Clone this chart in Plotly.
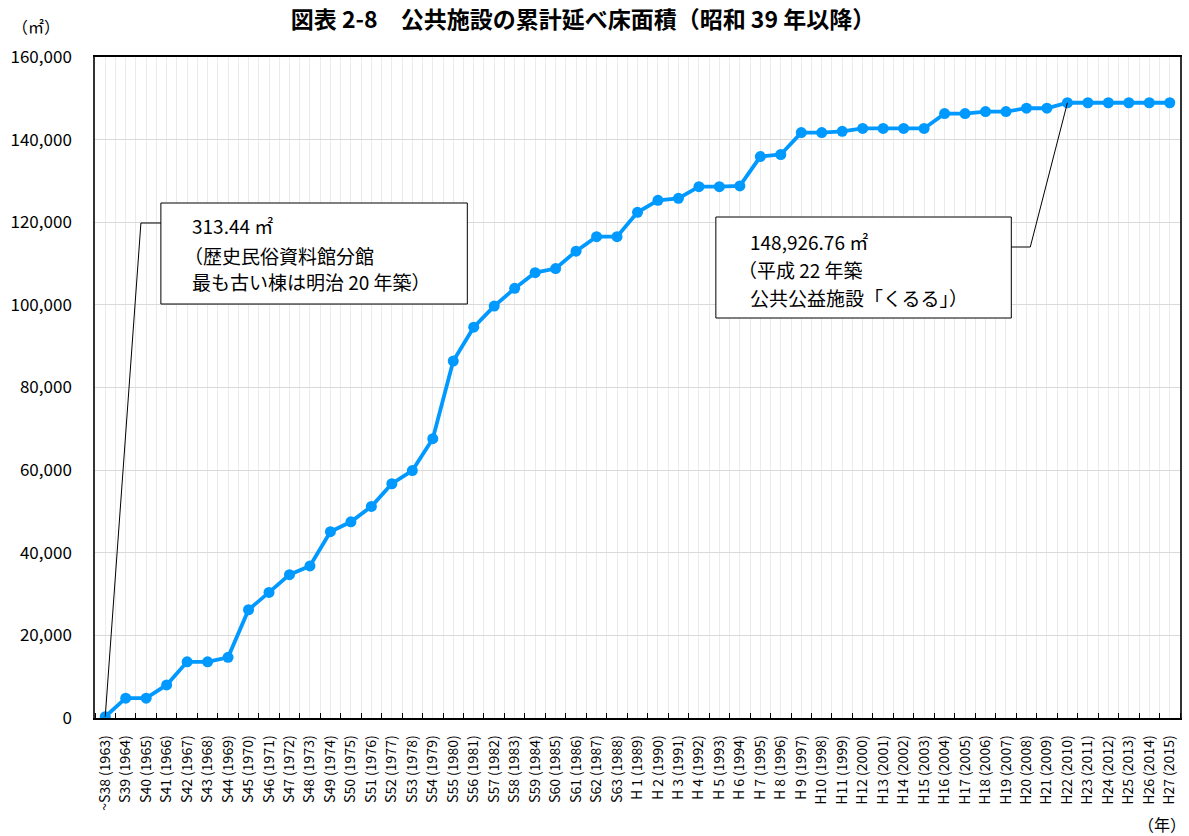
import plotly.graph_objects as go

categories = [
    "~S38 (1963)", "S39 (1964)", "S40 (1965)", "S41 (1966)", "S42 (1967)", "S43 (1968)",
    "S44 (1969)", "S45 (1970)", "S46 (1971)", "S47 (1972)", "S48 (1973)", "S49 (1974)",
    "S50 (1975)", "S51 (1976)", "S52 (1977)", "S53 (1978)", "S54 (1979)", "S55 (1980)",
    "S56 (1981)", "S57 (1982)", "S58 (1983)", "S59 (1984)", "S60 (1985)", "S61 (1986)",
    "S62 (1987)", "S63 (1988)", "H 1 (1989)", "H 2 (1990)", "H 3 (1991)", "H 4 (1992)",
    "H 5 (1993)", "H 6 (1994)", "H 7 (1995)", "H 8 (1996)", "H 9 (1997)", "H10 (1998)",
    "H11 (1999)", "H12 (2000)", "H13 (2001)", "H14 (2002)", "H15 (2003)", "H16 (2004)",
    "H17 (2005)", "H18 (2006)", "H19 (2007)", "H20 (2008)", "H21 (2009)", "H22 (2010)",
    "H23 (2011)", "H24 (2012)", "H25 (2013)", "H26 (2014)", "H27 (2015)",
]

floor_area = [
    313, 4800, 4800, 8000, 13600, 13600, 14700, 26200, 30400, 34700, 36800, 45100,
    47500, 51200, 56700, 59900, 67600, 86400, 94600, 99700, 104000, 107800, 108800, 113000,
    116500, 116500, 122400, 125300, 125800, 128600, 128600, 128800, 135900, 136400, 141700, 141700,
    142000, 142700, 142700, 142700, 142700, 146300, 146300, 146800, 146800, 147600, 147600, 148927,
    148927, 148927, 148927, 148927, 148927,
]

y_ticks = [0, 20000, 40000, 60000, 80000, 100000, 120000, 140000, 160000]

note1_idx = 0
note1_lines = ["313.44 ㎡", "（歴史民俗資料館分館", "最も古い棟は明治 20 年築）"]
note2_idx = 47
note2_lines = ["148,926.76 ㎡", "（平成 22 年築", "公共公益施設「くるる」）"]

title_text = "図表 2-8　公共施設の累計延べ床面積（昭和 39 年以降）"
FONT = "Noto Sans CJK JP"

W, H = 1189, 836
PL, PR, PT, PB = 95, 1182, 57, 718
N = len(categories)
YMAX = 160000


def xp(px):
    return (px - PL) / (PR - PL)


def yp(py):
    return (PB - py) / (PB - PT)


def xd(px):
    return -0.5 + N * (px - PL) / (PR - PL)


def yd(py):
    return YMAX * (PB - py) / (PB - PT)


x = list(range(N))

fig = go.Figure()
fig.add_trace(go.Scatter(
    x=x, y=floor_area, mode="lines+markers",
    line=dict(color="#0099FF", width=3.8),
    marker=dict(color="#0099FF", size=11),
    showlegend=False, hoverinfo="skip",
))

fig.update_layout(
    width=W, height=H,
    margin=dict(l=PL, r=W - PR, t=PT, b=H - PB),
    paper_bgcolor="white", plot_bgcolor="white",
    font=dict(family=FONT, color="black"),
    title=dict(text=title_text, x=583 / W, xanchor="center", y=1 - 20 / H, yanchor="middle",
               font=dict(size=23, family=FONT, color="black", weight="bold")),
)

fig.update_xaxes(
    range=[-0.5, N - 0.5], tickmode="array", tickvals=x, ticktext=categories,
    tickangle=-90, ticks="", showgrid=True, gridcolor="#ebebeb", gridwidth=1,
    showline=True, linecolor="black", linewidth=1.5, mirror=True, zeroline=False,
    tickfont=dict(size=14, family=FONT, color="black"), ticklabelstandoff=10,
    minor=dict(tickmode="linear", tick0=-0.5, dtick=1, ticks="inside", ticklen=5,
               tickcolor="black", tickwidth=1, showgrid=True, gridcolor="#ebebeb"),
)
fig.update_yaxes(
    range=[0, YMAX], tickmode="array", tickvals=y_ticks, tickformat=",",
    showgrid=True, gridcolor="#d9d9d9", gridwidth=1, zeroline=False,
    showline=True, linecolor="#333333", linewidth=1.5, mirror=True, ticks="",
    tickfont=dict(size=17, family=FONT, color="black"), ticklabelstandoff=18,
)

# annotation boxes
fig.add_shape(type="rect", xref="paper", yref="paper",
              x0=xp(161), x1=xp(468), y0=yp(304), y1=yp(203),
              line=dict(color="black", width=1), fillcolor="white", layer="above")
fig.add_shape(type="rect", xref="paper", yref="paper",
              x0=xp(717), x1=xp(1013), y0=yp(318), y1=yp(217),
              line=dict(color="black", width=1), fillcolor="white", layer="above")

# leader lines
fig.add_shape(type="path", xref="x", yref="y",
              path=f"M {xd(161)} {yd(223)} L {xd(141)} {yd(223)} L {x[note1_idx]} {floor_area[note1_idx]}",
              line=dict(color="black", width=1), layer="above")
fig.add_shape(type="path", xref="x", yref="y",
              path=f"M {xd(1013)} {yd(247)} L {xd(1032)} {yd(247)} L {x[note2_idx]} {floor_area[note2_idx]}",
              line=dict(color="black", width=1), layer="above")

note_font = dict(size=19, family=FONT, color="black")
for (px, py), txt in zip([(190, 225), (182, 255), (190, 281)], note1_lines):
    fig.add_annotation(xref="paper", yref="paper", x=xp(px), y=yp(py), text=txt,
                       showarrow=False, xanchor="left", yanchor="middle", font=note_font)
for (px, py), txt in zip([(749, 241), (737, 269), (749, 297)], note2_lines):
    fig.add_annotation(xref="paper", yref="paper", x=xp(px), y=yp(py), text=txt,
                       showarrow=False, xanchor="left", yanchor="middle", font=note_font)

# axis unit labels
fig.add_annotation(xref="paper", yref="paper", x=xp(36), y=yp(26), text="（㎡）",
                   showarrow=False, xanchor="center", yanchor="middle",
                   font=dict(size=16, family=FONT, color="black"))
fig.add_annotation(xref="paper", yref="paper", x=xp(1164), y=yp(824), text="（年）",
                   showarrow=False, xanchor="center", yanchor="middle",
                   font=dict(size=16, family=FONT, color="black"))

fig.write_html("out.html", config={"displayModeBar": False},
               post_script="document.body.style.margin='0';")
